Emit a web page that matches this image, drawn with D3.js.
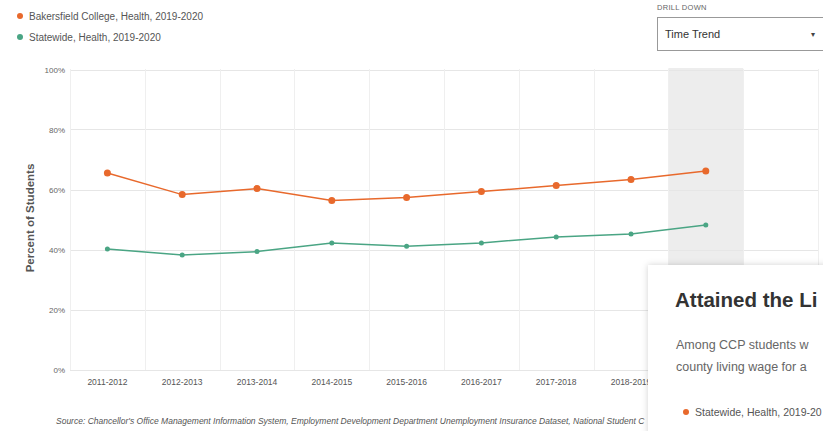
<!DOCTYPE html>
<html>
<head>
<meta charset="utf-8">
<script src="https://cdn.jsdelivr.net/npm/d3@7"></script>
<style>
html,body{margin:0;padding:0;background:#fff;overflow:hidden;}
svg{display:block;font-family:"Liberation Sans",Arial,sans-serif;}
</style>
</head>
<body>
<svg id="chart" width="823" height="431"></svg>
<script>
const categories = ["2011-2012","2012-2013","2013-2014","2014-2015","2015-2016","2016-2017","2017-2018","2018-2019","2019-2020","2020-2021"];
const collegeValues = [65.5, 58.3, 60.3, 56.3, 57.3, 59.3, 61.3, 63.3, 66.2];
const statewideValues = [40.2, 38.2, 39.3, 42.2, 41.1, 42.2, 44.2, 45.2, 48.2];
const yTicks = [0, 20, 40, 60, 80, 100];
const seriesNames = ["Bakersfield College, Health, 2019-2020", "Statewide, Health, 2019-2020"];
const highlighted = "2019-2020";

const orange = "#e8692c", green = "#4aa584";
const svg = d3.select("#chart");

const x = d3.scaleBand().domain(categories).range([70, 818]);
const y = d3.scaleLinear().domain([0, 100]).range([369.5, 69.5]);

// highlight band
svg.append("rect").attr("x", x(highlighted)).attr("y", 68).attr("width", x.bandwidth()).attr("height", 302).attr("fill", "#ededed");

// grids
const g = svg.append("g");
g.selectAll(".hg").data(yTicks).join("line")
  .attr("x1", 70).attr("x2", 818).attr("y1", d => Math.round(y(d)) + 0.5).attr("y2", d => Math.round(y(d)) + 0.5)
  .attr("stroke", "#e6e6e6").attr("stroke-width", 1);
const bounds = categories.map(c => x(c)).concat([x.range()[1]]);
g.selectAll(".vg").data(bounds).join("line")
  .attr("x1", d => Math.round(d) + 0.5).attr("x2", d => Math.round(d) + 0.5).attr("y1", 69).attr("y2", 370)
  .attr("stroke", "#efefef").attr("stroke-width", 1);

// y axis labels
svg.append("g").selectAll("text").data(yTicks).join("text")
  .attr("x", 65).attr("y", d => y(d) + 3).attr("text-anchor", "end")
  .attr("font-size", 8).attr("fill", "#666").text(d => d + "%");
svg.append("text").attr("transform", "translate(34,218) rotate(-90)").attr("text-anchor", "middle")
  .attr("font-size", 11.5).attr("font-weight", "bold").attr("fill", "#555").text("Percent of Students");

// x axis labels
svg.append("g").selectAll("text").data(categories).join("text")
  .attr("x", d => x(d) + x.bandwidth() / 2).attr("y", 385).attr("text-anchor", "middle")
  .attr("font-size", 8.5).attr("fill", "#555").text(d => d);

// lines
const cx = (d, i) => x(categories[i]) + x.bandwidth() / 2;
const line = d3.line().x(cx).y(d => y(d));
svg.append("path").datum(collegeValues).attr("d", line).attr("fill", "none").attr("stroke", orange).attr("stroke-width", 1.5);
svg.append("path").datum(statewideValues).attr("d", line).attr("fill", "none").attr("stroke", green).attr("stroke-width", 1.5);
svg.append("g").selectAll("circle").data(collegeValues).join("circle")
  .attr("cx", cx).attr("cy", d => y(d)).attr("r", 3.5).attr("fill", orange);
svg.append("g").selectAll("circle").data(statewideValues).join("circle")
  .attr("cx", cx).attr("cy", d => y(d)).attr("r", 2.5).attr("fill", green);

// legend
const legColors = [orange, green];
const leg = svg.append("g");
seriesNames.forEach((n, i) => {
  leg.append("circle").attr("cx", 20).attr("cy", 16 + i * 21).attr("r", 3).attr("fill", legColors[i]);
  leg.append("text").attr("x", 29).attr("y", 19.5 + i * 21).attr("font-size", 10).attr("fill", "#555").text(n);
});

// source
svg.append("text").attr("x", 56).attr("y", 424).attr("font-size", 8.5).attr("font-style", "italic").attr("fill", "#555")
  .text("Source: Chancellor's Office Management Information System, Employment Development Department Unemployment Insurance Dataset, National Student C");

// drill down
svg.append("text").attr("x", 657).attr("y", 10).attr("font-size", 7.5).attr("fill", "#666").attr("letter-spacing", 0.3).text("DRILL DOWN");
svg.append("rect").attr("x", 657.5).attr("y", 17.5).attr("width", 180).attr("height", 33).attr("fill", "#fff").attr("stroke", "#999");
svg.append("text").attr("x", 665).attr("y", 38).attr("font-size", 11).attr("fill", "#333").text("Time Trend");
svg.append("text").attr("x", 811).attr("y", 37).attr("font-size", 8).attr("fill", "#444").text("▾");

// tooltip
const defs = svg.append("defs");
const f = defs.append("filter").attr("id", "sh").attr("x", "-20%").attr("y", "-20%").attr("width", "140%").attr("height", "140%");
f.append("feDropShadow").attr("dx", 0).attr("dy", 0).attr("stdDeviation", 3).attr("flood-color", "#000").attr("flood-opacity", 0.18);
svg.append("rect").attr("x", 648).attr("y", 265).attr("width", 220).attr("height", 200).attr("fill", "#fff").attr("filter", "url(#sh)");
svg.append("text").attr("x", 675).attr("y", 307).attr("font-size", 20.5).attr("font-weight", "bold").attr("fill", "#333").text("Attained the Li");
svg.append("text").attr("x", 676).attr("y", 349).attr("font-size", 12.5).attr("fill", "#666").text("Among CCP students w");
svg.append("text").attr("x", 676).attr("y", 371).attr("font-size", 12.5).attr("fill", "#666").text("county living wage for a");
svg.append("circle").attr("cx", 686).attr("cy", 412).attr("r", 3).attr("fill", orange);
svg.append("text").attr("x", 695).attr("y", 415.5).attr("font-size", 10.5).attr("fill", "#555").text("Statewide, Health, 2019-20");
</script>
</body>
</html>
